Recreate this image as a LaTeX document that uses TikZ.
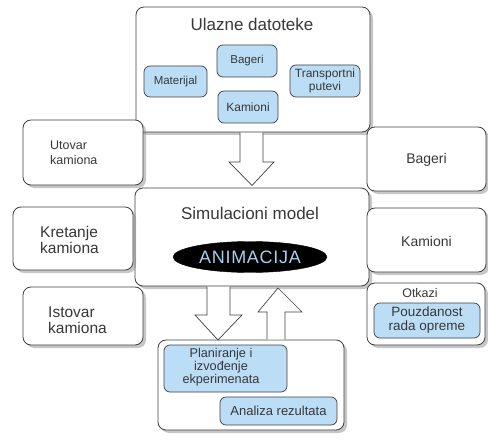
\documentclass[tikz,border=0pt]{standalone}
\usepackage{fontspec}
\setmainfont{Liberation Sans}
\usetikzlibrary{shadows,shapes.geometric}
\definecolor{edge}{HTML}{404040}
\definecolor{bluefill}{HTML}{BCDDF6}
\definecolor{txt}{HTML}{383838}
\definecolor{animtxt}{HTML}{A9CFEE}
\tikzset{
  outerbox/.style={draw=edge, line width=0.8pt, fill=white, rounded corners=8pt,
    drop shadow={shadow xshift=3pt, shadow yshift=-3pt, opacity=0.45}, inner sep=0pt},
  innerbox/.style={draw=edge, line width=0.7pt, fill=bluefill, rounded corners=6pt,
    text=txt, align=center, inner sep=0pt},
  lbl/.style={text=txt, inner sep=0pt, align=center},
  lbll/.style={text=txt, inner sep=0pt, align=left, anchor=west},
  blockarrow/.style={draw=edge, line width=0.7pt, fill=white, line join=miter},
}
\begin{document}
\begin{tikzpicture}[x=1pt,y=-1pt]
\useasboundingbox (0,0) rectangle (488,444);
% outer boxes
\node[outerbox, minimum width=234pt, minimum height=125pt] (ulaz) at (253,69.5) {};
\node[outerbox, minimum width=234pt, minimum height=98pt] (sim) at (252,237) {};
\node[outerbox, minimum width=120pt, minimum height=65pt] (utovar) at (83,152.5) {};
\node[outerbox, minimum width=120pt, minimum height=63pt] (kretanje) at (73,238.5) {};
\node[outerbox, minimum width=120pt, minimum height=58pt] (istovar) at (83,316) {};
\node[outerbox, minimum width=119pt, minimum height=64pt] (bageriR) at (426.5,159) {};
\node[outerbox, minimum width=119pt, minimum height=64pt] (kamioniR) at (426.5,240) {};
\node[outerbox, minimum width=118pt, minimum height=62pt] (otkazi) at (426,314) {};
\node[outerbox, minimum width=186pt, minimum height=90pt] (izlaz) at (251,385) {};

% top box contents
\node[lbl, font=\fontsize{17}{20}\selectfont] (ulazT) at (252,24) {Ulazne datoteke};
\node[innerbox, minimum width=60pt, minimum height=32pt, font=\fontsize{11.5}{13}\selectfont] (bageri) at (247,61) {Bageri};
\node[innerbox, minimum width=63pt, minimum height=31pt, font=\fontsize{11.5}{13}\selectfont] (materijal) at (175.5,81.5) {Materijal};
\node[innerbox, minimum width=60pt, minimum height=32pt, font=\fontsize{12}{13}\selectfont] (kamioni) at (248,107) {Kamioni};
\node[innerbox, minimum width=70pt, minimum height=32pt, font=\fontsize{12}{13}\selectfont] (transport) at (325,81) {Transportni\\putevi};

% simulation model
\node[lbl, font=\fontsize{17}{20}\selectfont] (simT) at (250,213) {Simulacioni model};
\node[ellipse, fill=black, draw=black, minimum width=154pt, minimum height=31pt, inner sep=0pt,
  text=animtxt, font=\fontsize{18}{20}\selectfont\addfontfeatures{LetterSpace=4}] (anim) at (250,257) {ANIMACIJA};

% left labels
\node[lbll, font=\fontsize{12.5}{15}\selectfont] (utovarT) at (50,152.5) {Utovar\\kamiona};
\node[lbll, font=\fontsize{15.5}{14}\selectfont] (kretanjeT) at (40,240) {Kretanje\\kamiona};
\node[lbll, font=\fontsize{15.5}{16}\selectfont] (istovarT) at (48,320) {Istovar\\kamiona};

% right labels
\node[lbl, font=\fontsize{14}{16}\selectfont] (bageriRT) at (426.5,160) {Bageri};
\node[lbl, font=\fontsize{14}{16}\selectfont] (kamioniRT) at (426.5,241) {Kamioni};
\node[lbl, font=\fontsize{12.5}{14}\selectfont] (otkaziT) at (420,293.5) {Otkazi};
\node[innerbox, minimum width=106pt, minimum height=35pt, font=\fontsize{13.5}{14}\selectfont] (pouzdanost) at (427,320.5) {Pouzdanost\\rada opreme};

% bottom box contents
\node[innerbox, minimum width=123pt, minimum height=47pt, font=\fontsize{12.7}{11}\selectfont] (planiranje) at (225.5,368.5) {};
\node[lbl, font=\fontsize{12.7}{11}\selectfont] (planiranjeT) at (221,367.5) {Planiranje i\\izvođenje\\ekperimenata};
\node[innerbox, minimum width=117pt, minimum height=28pt, font=\fontsize{13}{14}\selectfont] (analiza) at (278.5,411) {Analiza rezultata};

% block arrows
\filldraw[blockarrow] (240,132.6) -- (240,162) -- (229,162) -- (252,185.5) -- (274,162) -- (263,162) -- (263,132.6);
\filldraw[blockarrow] (207,286.6) -- (207,315) -- (195,315) -- (218,340) -- (242,315) -- (230,315) -- (230,286.6);
\filldraw[blockarrow] (267,339.4) -- (267,312) -- (258,312) -- (278,288) -- (302,312) -- (285,312) -- (285,339.4);
\end{tikzpicture}
\end{document}
